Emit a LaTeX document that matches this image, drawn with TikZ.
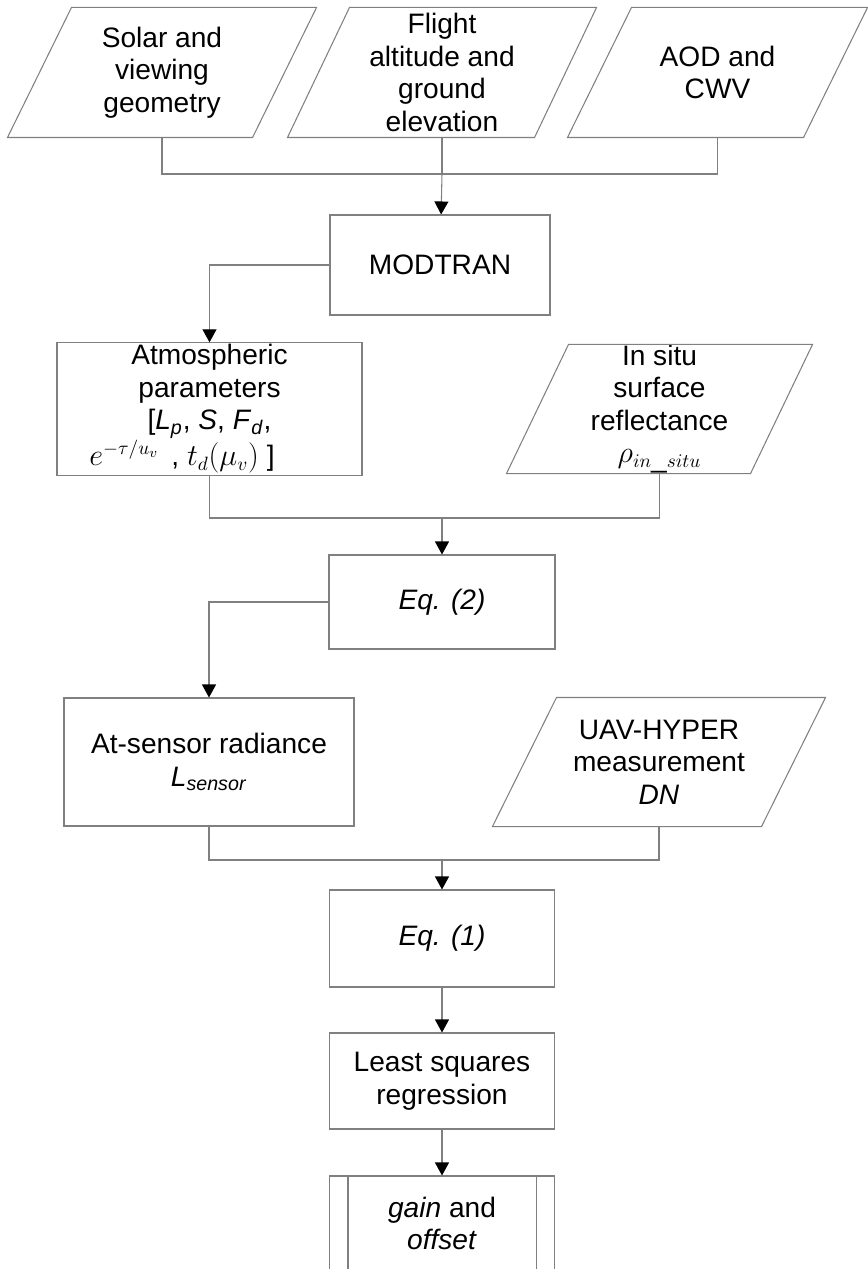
\documentclass[tikz,border=0pt]{standalone}
\usepackage{fontspec}
\setmainfont{Liberation Sans}
\usetikzlibrary{arrows.meta,calc}
\newcommand{\drawpara}[2][0.64]{%
    \draw[line] ($(#2.south west)+(-#1,0)$) -- ($(#2.south east)+(-#1,0)$)
        -- ($(#2.north east)+(#1,0)$) -- ($(#2.north west)+(#1,0)$) -- cycle;}
\begin{document}
\begin{tikzpicture}[
    >={Triangle[width=2.8mm,length=2.6mm,color=black]},
    font=\fontsize{16}{18.5}\selectfont,
    line width=0.6pt,
    box/.style={
        draw=black!50,
        minimum width=4.5cm,
        minimum height=1.9cm,
        inner sep=1pt,
        align=center
    },
    data/.style={
        minimum width=4.88cm,
        minimum height=2.56cm,
        inner sep=0pt,
        align=center
    },
    line/.style={draw=black!50},
    arr/.style={->, draw=black!50}
]
    \useasboundingbox (0,0) rectangle (17.36,-25.38);

    \node[data, minimum height=2.58cm] (sun) at (3.24,-1.45)
        {Solar and\\viewing\\geometry};
    \node[data, minimum width=4.92cm, minimum height=2.58cm] (flight) at (8.84,-1.45)
        {Flight\\altitude and\\ground\\elevation};
    \node[data, minimum width=4.7cm, minimum height=2.58cm] (aod) at (14.35,-1.45)
        {AOD and\\CWV};
    \drawpara{sun}
    \drawpara[0.62]{flight}
    \drawpara{aod}

    \node[box, minimum width=4.4cm, minimum height=2cm] (modtran) at (8.8,-5.3)
        {MODTRAN};

    \node[box, minimum width=6.1cm, minimum height=2.56cm] (atmos) at (4.19,-8.18)
        {Atmospheric\\parameters\\{[}\textit{L}\textsubscript{\textit{p}}, \textit{S}, \textit{F}\textsubscript{\textit{d}},\\$e^{-\tau/u_{v}}$\, , $t_{d}\bigl(\mu_{v}\bigr)$ ]\hspace*{1.1cm}};
    \node[data, minimum width=4.86cm] (insitu) at (13.19,-8.18)
        {In situ\\surface\\reflectance\\$\rho_{in\_situ}$};
    \drawpara[0.62]{insitu}

    \node[box, minimum width=4.52cm, minimum height=1.88cm] (eqtwo) at (8.84,-12.04)
        {\textit{Eq. (2)}};

    \node[box, minimum width=5.8cm, minimum height=2.56cm] (sensor) at (4.18,-15.24)
        {At-sensor radiance\\\textit{L}\textsubscript{\textit{sensor}}};
    \node[data, minimum width=5.36cm] (uav) at (13.18,-15.24)
        {UAV-HYPER\\measurement\\\textit{DN}};
    \drawpara{uav}

    \node[box, minimum height=1.94cm] (eqone) at (8.84,-18.77)
        {\textit{Eq. (1)}};
    \node[box, minimum height=1.92cm] (lsq) at (8.84,-21.62)
        {Least squares\\regression};
    \node[box] (gain) at (8.84,-24.47)
        {\textit{gain} and\\\textit{offset}};
    \draw[line] ($(gain.north west)+(0.38,0)$) -- ($(gain.south west)+(0.38,0)$);
    \draw[line] ($(gain.north east)+(-0.38,0)$) -- ($(gain.south east)+(-0.38,0)$);

    \coordinate (topjoin) at (8.84,-3.48);
    \coordinate (midjoin) at (8.84,-10.36);
    \coordinate (lowjoin) at (8.84,-17.2);

    \draw[line] (sun.south) |- (topjoin) -| (aod.south);
    \draw[line] (flight.south) -- (topjoin);
    \draw[arr] (topjoin) -- (modtran);
    \draw[arr] (modtran.west) -| (atmos.north);

    \draw[line] (atmos.south) |- (midjoin) -| (insitu.south);
    \draw[arr] (midjoin) -- (eqtwo);
    \draw[arr] (eqtwo.west) -| (sensor.north);

    \draw[line] (sensor.south) |- (lowjoin) -| (uav.south);
    \draw[arr] (lowjoin) -- (eqone);
    \draw[arr] (eqone) -- (lsq);
    \draw[arr] (lsq) -- (gain);
\end{tikzpicture}
\end{document}
